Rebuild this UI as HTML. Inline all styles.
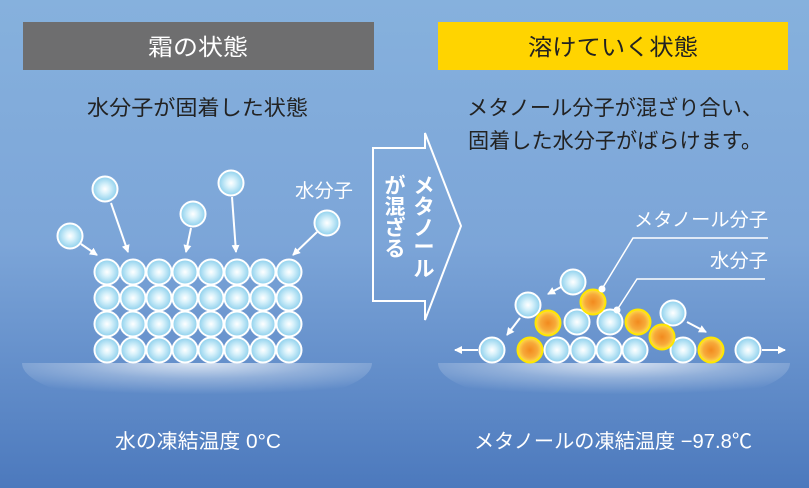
<!DOCTYPE html>
<html><head><meta charset="utf-8"><style>
html,body{margin:0;padding:0;width:809px;height:488px;overflow:hidden}
svg text{font-family:"Liberation Sans","Noto Sans CJK JP",sans-serif}
</style></head><body>
<svg width="809" height="488" viewBox="0 0 809 488" xmlns="http://www.w3.org/2000/svg">
<defs>
<linearGradient id="bg" x1="0" y1="0" x2="0" y2="1">
<stop offset="0" stop-color="#86b1dd"/><stop offset="0.5" stop-color="#7ca5d8"/><stop offset="1" stop-color="#4c79bd"/>
</linearGradient>
<radialGradient id="w" cx="0.5" cy="0.5" r="0.5">
<stop offset="0" stop-color="#ffffff"/><stop offset="0.35" stop-color="#d9f2fb"/><stop offset="1" stop-color="#8ccfec"/>
</radialGradient>
<radialGradient id="m" cx="0.5" cy="0.5" r="0.5">
<stop offset="0" stop-color="#f28a1e"/><stop offset="0.6" stop-color="#f7a93a"/><stop offset="1" stop-color="#ffe14a"/>
</radialGradient>
<radialGradient id="glow" cx="0.5" cy="0" r="0.7">
<stop offset="0" stop-color="#ffffff" stop-opacity="0.75"/><stop offset="0.5" stop-color="#ffffff" stop-opacity="0.3"/><stop offset="1" stop-color="#ffffff" stop-opacity="0"/>
</radialGradient>
<marker id="ah" markerWidth="8" markerHeight="8" refX="7" refY="4" orient="auto" markerUnits="userSpaceOnUse">
<path d="M0,0 L8,4 L0,8 z" fill="#fff"/></marker>
</defs>
<rect width="809" height="488" fill="url(#bg)"/>
<path d="M22,363 L372,363 A175,45 0 0 1 22,363 Z" fill="url(#glow)"/>
<path d="M438,363 L790,363 A176,45 0 0 1 438,363 Z" fill="url(#glow)"/>
<rect x="23" y="22" width="351" height="48" fill="#6e6e6f"/>
<text x="198" y="55" font-size="23" fill="#fff" text-anchor="middle" textLength="100" lengthAdjust="spacingAndGlyphs">霜の状態</text>
<rect x="438" y="22" width="350" height="48" fill="#ffd400"/>
<text x="613" y="55" font-size="23" fill="#222" text-anchor="middle" textLength="170" lengthAdjust="spacingAndGlyphs">溶けていく状態</text>
<text x="87" y="115" font-size="21" fill="#222" textLength="221" lengthAdjust="spacingAndGlyphs">水分子が固着した状態</text>
<text x="467" y="115" font-size="21" fill="#222" textLength="296" lengthAdjust="spacingAndGlyphs">メタノール分子が混ざり合い、</text>
<text x="468" y="148" font-size="21" fill="#222" textLength="294" lengthAdjust="spacingAndGlyphs">固着した水分子がばらけます。</text>

<g stroke="#fff" stroke-width="2" fill="url(#w)">
<g id="row">
<circle cx="107" cy="272" r="12.5"/><circle cx="133" cy="272" r="12.5"/><circle cx="159" cy="272" r="12.5"/><circle cx="185" cy="272" r="12.5"/><circle cx="211" cy="272" r="12.5"/><circle cx="237" cy="272" r="12.5"/><circle cx="263" cy="272" r="12.5"/><circle cx="289" cy="272" r="12.5"/>
</g>
<use href="#row" y="26"/><use href="#row" y="52"/><use href="#row" y="78"/>
<circle cx="70" cy="236" r="12.5"/><circle cx="105" cy="189" r="12.5"/><circle cx="193" cy="214" r="12.5"/><circle cx="231" cy="183" r="12.5"/><circle cx="327" cy="223" r="12.5"/>
</g>
<g stroke="#fff" stroke-width="2" marker-end="url(#ah)">
<line x1="81" y1="244" x2="97" y2="255"/><line x1="111" y1="203" x2="128" y2="252"/><line x1="191" y1="228" x2="186" y2="252"/><line x1="232" y1="197" x2="236" y2="252"/><line x1="317" y1="232" x2="293" y2="255"/>
</g>
<text x="295" y="197" font-size="19" fill="#fff" textLength="58" lengthAdjust="spacingAndGlyphs">水分子</text>

<path d="M373,148 L425,148 L425,133 L461,226 L425,320 L425,301 L373,301 Z" fill="none" stroke="#fff" stroke-width="2"/>
<g font-size="21" font-weight="bold" fill="#fff" text-anchor="middle">
<text x="424" y="193">メ</text><text x="424" y="214">タ</text><text x="424" y="235">ノ</text><text x="424" y="254">ー</text><text x="424" y="276">ル</text>
<text x="395" y="193">が</text><text x="395" y="214">混</text><text x="395" y="235">ざ</text><text x="395" y="256">る</text>
</g>

<g stroke="#fff" stroke-width="2" marker-end="url(#ah)">
<line x1="478" y1="350" x2="455" y2="350"/><line x1="762" y1="350" x2="785" y2="350"/>
<line x1="561" y1="287" x2="548" y2="294"/><line x1="520" y1="318" x2="507" y2="335"/><line x1="687" y1="322" x2="706" y2="332"/>
</g>
<g stroke="#fff" stroke-width="2" fill="url(#w)">
<circle cx="492" cy="350" r="12.5"/><circle cx="557" cy="350" r="12.5"/><circle cx="583" cy="350" r="12.5"/><circle cx="609" cy="350" r="12.5"/><circle cx="635" cy="350" r="12.5"/><circle cx="683" cy="350" r="12.5"/><circle cx="748" cy="350" r="12.5"/>
<circle cx="528" cy="305" r="12.5"/><circle cx="577" cy="322" r="12.5"/><circle cx="610" cy="322" r="12.5"/><circle cx="673" cy="313" r="12.5"/><circle cx="573" cy="282" r="12.5"/>
</g>
<g stroke="#ffe600" stroke-width="2" fill="url(#m)">
<circle cx="530" cy="350" r="12.5"/><circle cx="711" cy="350" r="12.5"/>
<circle cx="548" cy="323" r="12.5"/><circle cx="638" cy="322" r="12.5"/><circle cx="662" cy="337" r="12.5"/><circle cx="593" cy="302" r="12.5"/>
</g>
<g stroke="#fff" stroke-width="1.5" fill="none">
<polyline points="602,289 633,238 768,238"/><polyline points="617,310 637,279 765,279"/>
</g>
<circle cx="602" cy="289" r="3.5" fill="#fff"/><circle cx="617" cy="310" r="3.5" fill="#fff"/>
<text x="634" y="226" font-size="19" fill="#fff" textLength="134" lengthAdjust="spacingAndGlyphs">メタノール分子</text>
<text x="710" y="267" font-size="19" fill="#fff" textLength="58" lengthAdjust="spacingAndGlyphs">水分子</text>

<text x="115" y="448" font-size="20" fill="#fff" textLength="166" lengthAdjust="spacingAndGlyphs">水の凍結温度 0°C</text>
<text x="474" y="448" font-size="20" fill="#fff" textLength="278" lengthAdjust="spacingAndGlyphs">メタノールの凍結温度 −97.8℃</text>
</svg>
</body></html>
